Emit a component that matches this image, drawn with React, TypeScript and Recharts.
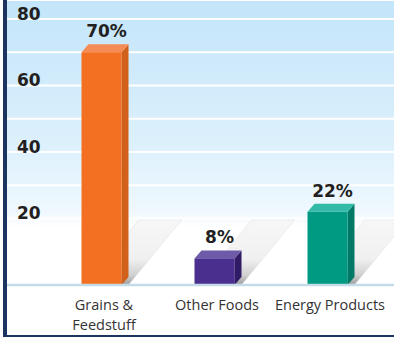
import React from "react";
import { BarChart, Bar, XAxis, YAxis, CartesianGrid, ReferenceLine, LabelList } from "recharts";

// Share of total, by product group (percent)
const categories = ["Grains &\nFeedstuff", "Other Foods", "Energy Products"];
const shares = [70, 8, 22];
const yTicks = [10, 20, 30, 40, 50, 60, 70, 80];
const yLabelTicks = [20, 40, 60, 80];

// front / side / top faces for each 3D column
const palette = [
  { front: "#f37022", side: "#d1601b", top: "#f68c55" },
  { front: "#4a2f8f", side: "#2f1b66", top: "#6d5aa8" },
  { front: "#009a82", side: "#007a66", top: "#33bba8" },
];

const data = categories.map((name, i) => ({ name, share: shares[i] }));

const DEPTH_X = 7;
const DEPTH_Y = 8;
const SHADOW_DX = 53;
const SHADOW_H = 65;

const Column3D = (props: any) => {
  const { x, y, width, height, index } = props;
  const c = palette[index % palette.length];
  const base = y + height;
  const right = x + width;
  const shadow = [
    [x + 4, base],
    [right + DEPTH_X, base],
    [right + DEPTH_X + SHADOW_DX, base - SHADOW_H],
    [x + 4 + SHADOW_DX, base - SHADOW_H],
  ]
    .map((p) => p.join(","))
    .join(" ");
  const side = [
    [right, y],
    [right + DEPTH_X, y - DEPTH_Y],
    [right + DEPTH_X, base - DEPTH_Y],
    [right, base],
  ]
    .map((p) => p.join(","))
    .join(" ");
  const top = [
    [x, y],
    [x + DEPTH_X, y - DEPTH_Y],
    [right + DEPTH_X, y - DEPTH_Y],
    [right, y],
  ]
    .map((p) => p.join(","))
    .join(" ");
  return (
    <g>
      <polygon points={shadow} fill="url(#shadowGrad)" stroke="#e4e4e4" strokeWidth={0.6} />
      <polygon points={side} fill={c.side} />
      <polygon points={top} fill={c.top} />
      <rect x={x} y={y} width={width} height={height} fill={c.front} />
    </g>
  );
};

const YTick = (props: any) => {
  const { y, payload } = props;
  if (!yLabelTicks.includes(payload.value)) return <g />;
  return (
    <text
      x={17}
      y={y + 1}
      fontFamily="'DejaVu Sans', sans-serif"
      fontWeight={700}
      fontSize={17}
      fill="#231f20"
    >
      {payload.value}
    </text>
  );
};

const XTick = (props: any) => {
  const { x, y, payload } = props;
  const lines = String(payload.value).split("\n");
  return (
    <text
      x={x + 3}
      y={y}
      textAnchor="middle"
      fontFamily="'Open Sans', sans-serif"
      fontSize={14.5}
      fill="#333333"
    >
      {lines.map((line, i) => (
        <tspan key={i} x={x + 3} dy={i === 0 ? 17 : 20}>
          {line}
        </tspan>
      ))}
    </text>
  );
};

const ValueLabel = (props: any) => {
  const { x, y, width, value } = props;
  return (
    <text
      x={x + width / 2 + 5}
      y={y - 15}
      textAnchor="middle"
      fontFamily="'DejaVu Sans', sans-serif"
      fontWeight={700}
      fontSize={17}
      fill="#231f20"
    >
      {value}%
    </text>
  );
};

export default function App() {
  return (
    <div style={{ position: "absolute", left: 0, top: 0, width: 394, height: 337, background: "#ffffff" }}>
      <BarChart
        width={394}
        height={337}
        data={data}
        margin={{ top: 0, right: 0, bottom: 0, left: 7 }}
        barSize={40}
      >
        <defs>
          <linearGradient id="bgGrad" x1="0" y1="0" x2="0" y2="1">
            <stop offset="0" stopColor="#c3e5fa" />
            <stop offset="0.5" stopColor="#dcf0fc" />
            <stop offset="0.74" stopColor="#eff8fe" />
            <stop offset="0.8" stopColor="#ffffff" />
            <stop offset="1" stopColor="#ffffff" />
          </linearGradient>
          <linearGradient id="shadowGrad" x1="0" y1="0" x2="0" y2="1">
            <stop offset="0" stopColor="#f7f7f7" />
            <stop offset="0.6" stopColor="#f0f0f0" />
            <stop offset="0.85" stopColor="#d0d0d0" />
            <stop offset="1" stopColor="#9c9c9c" />
          </linearGradient>
        </defs>
        <CartesianGrid
          vertical={false}
          stroke="#ffffff"
          strokeWidth={2}
          fill="url(#bgGrad)"
          fillOpacity={1}
        />
        <XAxis
          dataKey="name"
          axisLine={false}
          tickLine={false}
          height={52}
          interval={0}
          padding={{ left: 37.5, right: 10.5 }}
          tick={<XTick />}
        />
        <YAxis
          mirror
          width={40}
          domain={[0, 85.7]}
          ticks={yTicks}
          interval={0}
          axisLine={false}
          tickLine={false}
          tick={<YTick />}
        />
        <ReferenceLine y={0} stroke="#c4dce7" strokeWidth={2.5} />
        <Bar dataKey="share" shape={<Column3D />} isAnimationActive={false}>
          <LabelList dataKey="share" content={<ValueLabel />} />
        </Bar>
      </BarChart>
      <div style={{ position: "absolute", left: 3, top: 0, width: 4, height: 337, background: "#1d3461" }} />
      <div style={{ position: "absolute", left: 3, top: 335, width: 391, height: 2, background: "#1d3461" }} />
    </div>
  );
}
